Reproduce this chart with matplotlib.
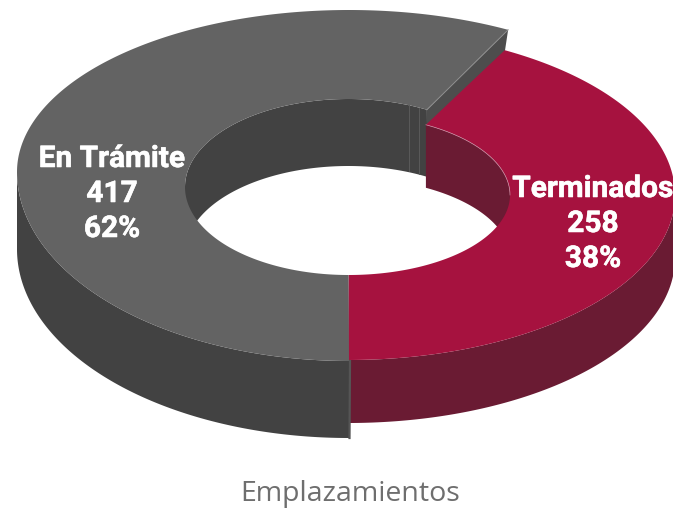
import numpy as np
import matplotlib
matplotlib.use("Agg")
import matplotlib.pyplot as plt
import matplotlib.patheffects as pe

categories = ["Terminados", "En Trámite"]
values = [258, 417]
title = "Emplazamientos"

W, H = 673, 512
fig = plt.figure(figsize=(W / 100, H / 100), dpi=100)
ax = fig.add_axes([0, 0, 1, 1])
ax.set_xlim(0, W)
ax.set_ylim(H, 0)
ax.axis("off")

# view geometry of the 3-D ring (style, not data)
GEO = {
    "red": dict(cx=348, cy=195, a=327, bu=165, bl=165,
                icx=348.5, ia=161.5, ib=80, icy=195, d=63, id=63),
    "gray": dict(cx=349, cy=172, a=332, bu=162, bl=189,
                 icx=348.5, ia=163.5, ib=88, icy=187, d=77, id=67),
}
C = {"red": ("#a6123f", "#6a1b33"), "gray": ("#636363", "#424242")}
STRETCH = 1.10  # view foreshortening of the sweep


def outer(g, t, dz=0):
    t = np.radians(t)
    s = np.sin(t)
    return g["cx"] + g["a"] * np.cos(t), g["cy"] - np.where(s >= 0, g["bu"], g["bl"]) * s + dz


def inner(g, t, dz=0):
    t = np.radians(t)
    return g["icx"] + g["ia"] * np.cos(t), g["icy"] - g["ib"] * np.sin(t) + dz


def rng(a, b):
    return np.linspace(a, b, 300)


def band(f1, f2, g, t, d1=0, d2=0, color="k", z=1):
    x1, y1 = f1(g, t, d1)
    x2, y2 = f2(g, t[::-1], d2)
    ax.fill(np.r_[x1, x2], np.r_[y1, y2], color=color, lw=0, zorder=z)


total = sum(values)
start = -90.0
split = start + 360 * values[0] / total * STRETCH
end = 270.0
R, G = GEO["red"], GEO["gray"]

# gray cut face between gray and red corners
xi, yi = inner(G, split)
xo, yo = outer(G, split)
xri, yri = inner(R, split)
xro, yro = outer(R, split)
ax.fill([xi, xo, xro, xri], [yi, yo, yro + 2, yri + 2], color="#4d4d4d", lw=0, zorder=1)

# inner walls (back part)
band(inner, inner, G, rng(split, 180), 0, G["id"], C["gray"][1], 2)
band(inner, inner, R, rng(start + 90, split), 0, R["id"], C["red"][1], 2)
for tt in (split + 3.2, split + 6.8):
    x, y = inner(G, tt)
    ax.plot([x, x], [y, y + G["id"] - 1], color="#5a5a5a", lw=0.7, zorder=2.2)

# outer walls (front part)
band(outer, outer, R, rng(start, 0), 0, R["d"], C["red"][1], 3)
band(outer, outer, G, rng(180, end), 0, G["d"], C["gray"][1], 3)
xe, ye = outer(G, end)
ax.plot([xe + 1.0, xe + 0.5], [ye, ye + G["d"]], color="#555555", lw=1.6, zorder=3.5)

# top faces
band(outer, inner, R, rng(start, split), color=C["red"][0], z=4)
band(outer, inner, G, rng(split, end), color=C["gray"][0], z=4)

# thin highlights
ax.plot([xi, xo], [yi, yo], color="#8c8c8c", lw=0.7, zorder=5)
x, y = inner(R, rng(0, split))
ax.plot(x, y, color="#c98aa0", lw=0.5, zorder=5)

labels = [(593, [189, 224, 259]), (112, [159, 194, 229])]
stroke = [pe.withStroke(linewidth=0.4, foreground="white")]
for name, val, (lx, ys) in zip(categories, values, labels):
    for s, yy in zip([name, str(val), f"{round(100 * val / total)}%"], ys):
        ax.text(lx, yy, s, color="white", fontsize=21.5, fontweight="bold",
                family="Roboto", ha="center", va="center", zorder=6,
                path_effects=stroke)

ax.text(350, 494, title, color="#6e6e6e", fontsize=20.5, family="Open Sans",
        ha="center", va="center", zorder=6)

fig.savefig("out.png", dpi=100)
